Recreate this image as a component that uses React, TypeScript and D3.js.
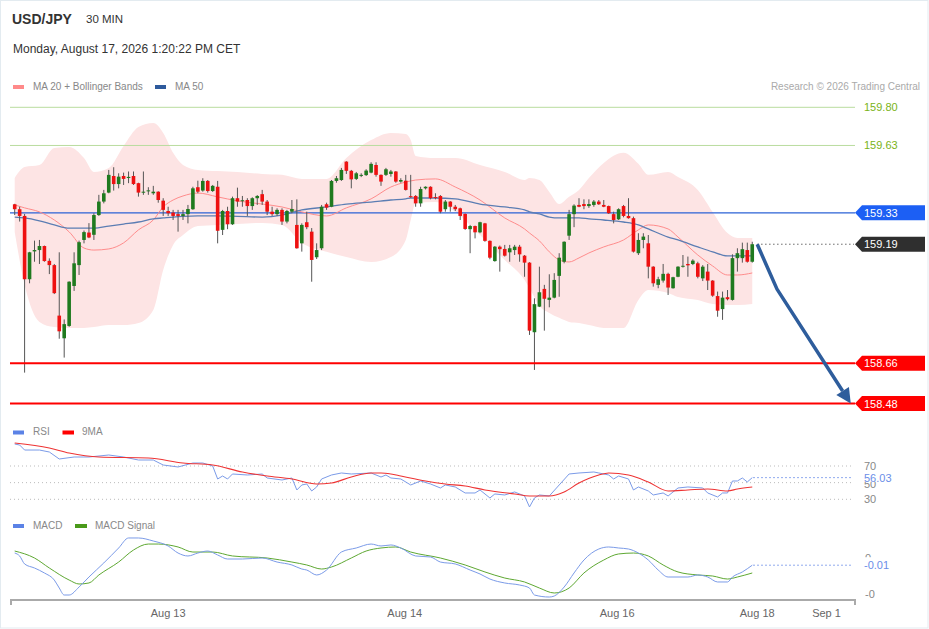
import React, { useEffect } from "react";
import * as d3 from "d3";

// ---------- candles (30 min) ----------
const candleOpen = [159.368,159.346,159.316,159.034,159.158,159.164,159.182,159.116,159.097,158.872,
158.771,158.826,159.004,159.097,159.209,159.242,159.232,159.320,159.380,159.420,
159.494,159.458,159.494,159.485,159.494,159.462,159.420,159.427,159.417,159.424,
159.384,159.338,159.331,159.324,159.316,159.324,159.346,159.444,159.429,159.472,
159.427,159.446,159.254,159.338,159.279,159.395,159.382,159.387,159.360,159.395,
159.413,159.380,159.335,159.324,159.343,159.291,159.335,159.276,159.194,159.288,
159.246,159.132,159.172,159.368,159.357,159.472,159.476,159.558,159.517,159.481,
159.495,159.498,159.509,159.543,159.499,159.499,159.503,159.514,159.469,159.473,
159.404,159.405,159.372,159.439,159.446,159.400,159.405,159.346,159.380,159.357,
159.350,159.325,159.257,159.271,159.243,159.283,159.205,159.115,159.179,159.169,
159.154,159.164,159.179,159.139,159.108,158.798,158.912,158.991,158.942,158.952,
159.049,159.112,159.228,159.324,159.365,159.369,159.360,159.365,159.380,159.365,
159.360,159.324,159.301,159.360,159.316,159.306,159.150,159.209,159.194,159.090,
159.009,159.028,159.058,158.994,159.045,159.090,159.102,159.102,159.105,159.038,
159.068,159.028,158.959,158.901,158.954,158.942,159.128,159.128,159.164,159.112];
const candleHigh = [159.370,159.357,159.325,159.156,159.206,159.209,159.184,159.127,159.102,159.154,
158.855,159.025,159.154,159.206,159.251,159.284,159.328,159.410,159.432,159.521,
159.533,159.506,159.509,159.514,159.514,159.464,159.514,159.444,159.450,159.426,
159.395,159.357,159.343,159.343,159.343,159.365,159.446,159.473,159.484,159.476,
159.454,159.472,159.343,159.357,159.402,159.442,159.405,159.395,159.399,159.409,
159.432,159.387,159.357,159.350,159.350,159.343,159.387,159.390,159.283,159.335,
159.262,159.194,159.365,159.375,159.476,159.494,159.530,159.560,159.521,159.512,
159.506,159.524,159.555,159.555,159.501,159.530,159.521,159.516,159.484,159.499,
159.499,159.409,159.446,159.448,159.448,159.417,159.409,159.387,159.382,159.365,
159.353,159.327,159.276,159.273,159.290,159.285,159.207,159.182,159.184,159.187,
159.187,159.187,159.187,159.142,159.110,158.949,159.090,159.009,159.056,159.061,
159.150,159.203,159.343,159.368,159.395,159.390,159.390,159.387,159.387,159.387,
159.362,159.335,159.350,159.365,159.395,159.313,159.239,159.239,159.231,159.092,
159.045,159.102,159.063,159.045,159.092,159.142,159.135,159.123,159.112,159.097,
159.102,159.030,158.979,158.979,158.986,159.145,159.172,159.197,159.197,159.201];
const candleLow = [159.320,159.291,158.618,159.016,159.112,159.102,159.112,159.057,158.968,158.769,
158.685,158.822,158.982,159.053,159.194,159.217,159.209,159.316,159.372,159.417,
159.429,159.439,159.454,159.462,159.454,159.402,159.410,159.410,159.410,159.375,
159.316,159.316,159.298,159.246,159.298,159.283,159.343,159.417,159.424,159.420,
159.423,159.194,159.231,159.257,159.276,159.357,159.357,159.316,159.343,159.365,
159.365,159.320,159.316,159.316,159.276,159.283,159.328,159.170,159.157,159.257,
159.023,159.124,159.164,159.343,159.355,159.464,159.472,159.503,159.439,159.476,
159.489,159.494,159.506,159.491,159.450,159.494,159.491,159.464,159.464,159.429,
159.397,159.357,159.357,159.434,159.390,159.390,159.328,159.335,159.335,159.338,
159.298,159.254,159.150,159.216,159.239,159.201,159.123,159.112,159.068,159.135,
159.112,159.142,159.112,159.045,158.786,158.630,158.910,158.805,158.909,158.949,
158.956,159.105,159.209,159.266,159.355,159.346,159.352,159.357,159.365,159.355,
159.325,159.283,159.298,159.310,159.304,159.153,159.142,159.172,159.038,159.001,
158.994,159.019,158.964,158.992,159.043,159.086,159.045,159.097,159.038,159.026,
158.986,158.956,158.867,158.853,158.940,158.939,159.068,159.108,159.108,159.108];
const candleClose = [159.346,159.316,159.034,159.154,159.164,159.182,159.115,159.097,158.972,158.802,
158.834,159.023,159.105,159.199,159.244,159.220,159.320,159.380,159.417,159.499,
159.458,159.491,159.481,159.490,159.458,159.420,159.424,159.430,159.424,159.387,
159.343,159.328,159.316,159.316,159.324,159.347,159.439,159.424,159.472,159.427,
159.450,159.250,159.338,159.279,159.395,159.380,159.386,159.360,159.395,159.405,
159.380,159.335,159.324,159.343,159.291,159.338,159.347,159.172,159.276,159.266,
159.120,159.164,159.357,159.353,159.472,159.484,159.521,159.517,159.479,159.506,
159.499,159.518,159.548,159.499,159.469,159.524,159.514,159.469,159.476,159.432,
159.400,159.372,159.436,159.446,159.395,159.397,159.335,159.380,159.357,159.346,
159.316,159.258,159.271,159.243,159.288,159.205,159.130,159.179,159.168,159.139,
159.172,159.179,159.145,159.108,158.805,158.923,158.976,158.947,158.952,159.031,
159.130,159.201,159.324,159.362,159.357,159.360,159.369,159.380,159.368,159.357,
159.328,159.298,159.346,159.316,159.306,159.157,159.209,159.224,159.090,159.016,
159.034,159.058,158.997,159.043,159.090,159.094,159.096,159.117,159.045,159.090,
159.028,158.961,158.894,158.952,158.945,159.128,159.150,159.168,159.112,159.190];

// ---------- MA20 + Bollinger, MA50 (sampled at candle indices) ----------
const bandIdx = [0,2,5,8,11,14,16,19,22,25,28,30,32,34,37,41,45,50,54,58,63,67,72,76,79,80,81,85,89,94,99,103,104,106,108,110,112,114,116,119,123,126,128,132,134,138,141,144,146,149];
const bbUpper = [159.485,159.534,159.543,159.619,159.623,159.574,159.512,159.530,159.628,159.712,
159.730,159.686,159.597,159.543,159.521,159.516,159.512,159.503,159.499,159.481,
159.481,159.574,159.654,159.686,159.681,159.654,159.583,159.574,159.574,159.543,
159.512,159.476,159.485,159.476,159.423,159.369,159.401,159.432,159.485,159.552,
159.597,159.548,159.499,159.512,159.490,159.432,159.334,159.240,159.218,159.218];
const bbLower = [159.245,159.009,158.844,158.821,158.817,158.817,158.821,158.830,158.830,158.839,
158.897,159.075,159.187,159.231,159.271,159.276,159.280,159.285,159.276,159.196,
159.156,159.133,159.111,159.133,159.209,159.298,159.374,159.378,159.334,159.231,
159.120,159.031,158.995,158.915,158.884,158.862,158.844,158.839,158.830,158.817,
158.817,158.942,158.986,158.973,158.955,158.942,158.924,158.919,158.919,158.924];
const ma20 = [159.365,159.352,159.334,159.298,159.245,159.173,159.164,159.169,159.196,159.254,
159.298,159.356,159.387,159.405,159.418,159.401,159.383,159.369,159.356,159.334,
159.316,159.352,159.392,159.445,159.467,159.472,159.476,159.481,159.445,159.387,
159.307,159.258,159.240,159.205,159.156,159.120,159.111,159.129,159.151,159.178,
159.209,159.254,159.276,159.258,159.222,159.142,159.093,159.053,159.053,159.062];
const ma50 = [159.311,159.307,159.294,159.276,159.262,159.262,159.262,159.271,159.280,159.289,
159.303,159.307,159.311,159.314,159.316,159.316,159.314,159.311,159.320,159.343,
159.356,159.369,159.378,159.387,159.392,159.396,159.396,159.396,159.392,159.369,
159.356,159.343,159.334,159.325,159.311,159.307,159.307,159.307,159.303,159.298,
159.289,159.276,159.258,159.222,159.209,159.178,159.156,159.138,159.138,159.138];

// ---------- levels ----------
const resistanceLevels = [159.80, 159.63];
const pivotLevel = 159.33;
const lastPrice = 159.19;
const supportLevels = [158.66, 158.48];
const arrowIdx = [150, 154, 168.9];
const arrowPrice = [159.19, 158.99, 158.48];

// ---------- RSI ----------
const rsiIdx = [0,1,2,5,7,9,12,15,19,22,25,28,30,33,36,38,40,41,42,43,44,47,50,51,54,56,57,58,59,60,61,62,64,66,68,72,74,75,76,78,80,82,84,86,87,89,91,93,94,96,97,99,101,103,104,105,106,108,110,112,114,117,118,120,121,122,124,125,126,128,129,131,132,134,136,139,140,142,143,144,145,146,147,148,149];
const rsiVal = [96.4,95.2,89.2,89.2,86.8,78.4,80.8,80.8,83.2,80.8,77.2,77.2,71.2,68.8,73.6,73.6,70.0,54.4,58.0,54.4,60.4,59.2,60.4,55.6,53.2,55.6,41.2,47.2,48.4,40.0,44.8,54.4,59.2,61.6,60.4,61.6,56.8,59.2,55.6,54.4,47.2,52.0,48.4,43.6,47.2,44.8,37.6,37.6,41.2,31.6,36.4,35.2,38.8,34.0,20.8,31.6,35.2,34.0,47.2,60.4,61.6,62.8,61.6,59.2,54.4,58.0,54.4,41.2,44.8,40.0,35.2,37.6,34.0,43.6,44.8,43.6,37.6,32.8,37.6,37.6,52.0,52.0,55.6,50.8,56.03];
const rsiMaIdx = [0,7,11,17,27,34,40,46,51,56,61,64,68,72,74,76,78,83,87,91,95,101,104,108,111,114,118,120,124,128,132,136,140,144,146,149];
const rsiMaVal = [97.6,91.6,85.6,80.8,79.6,73.6,71.2,62.8,58.0,54.4,48.4,49.6,56.8,61.6,61.6,60.4,58.0,52.0,48.4,46.0,41.2,36.4,34.0,34.0,38.8,49.6,59.2,61.6,59.2,50.8,40.0,41.2,42.4,40.0,42.4,44.8];
const rsiLevels = [70, 50, 30];

// ---------- MACD ----------
const macdIdx = [0,1,2,4,6,8,9,10,11,13,15,18,21,23,25,28,31,33,35,37,39,41,43,46,50,53,56,58,59,61,63,66,69,72,74,76,78,81,84,86,89,92,94,96,99,102,104,105,108,109,111,113,115,118,120,122,124,126,128,130,132,136,138,140,142,144,145,147,149];
const macdVal = [0.0069,0.0028,-0.0083,-0.0139,-0.0208,-0.0306,-0.0417,-0.0514,-0.0514,-0.0403,-0.0264,-0.0069,0.0139,0.0278,0.0278,0.0236,0.0167,0.0069,0.0028,0.0069,0.0097,0.0042,-0.0014,-0.0014,0.0,-0.0056,-0.0097,-0.0153,-0.0167,-0.0236,-0.0167,0.0083,0.0139,0.0194,0.0167,0.0181,0.0139,0.0028,0.0014,-0.0056,-0.0083,-0.0167,-0.0222,-0.0292,-0.0347,-0.0375,-0.0417,-0.0514,-0.0542,-0.0528,-0.0403,-0.0208,-0.0028,0.0125,0.0153,0.0139,0.0125,0.0069,-0.0028,-0.0167,-0.0264,-0.0264,-0.0236,-0.0264,-0.0333,-0.0333,-0.0264,-0.0194,-0.0100];
const sigIdx = [0,4,7,11,13,15,17,21,24,27,29,33,36,40,44,51,56,59,62,64,68,71,74,77,80,86,91,95,99,103,106,109,112,115,119,122,125,128,131,134,138,141,144,146,149];
const sigVal = [0.0097,0.0,-0.0139,-0.0306,-0.0361,-0.0347,-0.0236,-0.0056,0.0111,0.0194,0.0194,0.0153,0.0083,0.0083,0.0028,0.0,-0.0056,-0.0097,-0.0153,-0.0125,0.0,0.0097,0.0139,0.0153,0.0083,0.0,-0.0097,-0.0194,-0.0278,-0.0333,-0.0417,-0.0486,-0.0417,-0.0208,-0.0028,0.0056,0.0069,0.0028,-0.0097,-0.0194,-0.0236,-0.0250,-0.0292,-0.0264,-0.0208];
const macdTicks = [0, -0.05];
const macdTickLabels = ["0", "-0"];

// ---------- x axis labels ----------
const xLabels = ["Aug 13", "Aug 14", "Aug 16", "Aug 18", "Sep 1"];
const xLabelIdx = [31, 78.8, 121.7, 150, 164];

const FONT = "'Liberation Sans', Arial, sans-serif";

export default function App() {
  useEffect(() => {
    document.body.style.margin = "0";
  }, []);

  const W = 929, H = 629;
  const x = d3.scaleLinear().domain([0, 149]).range([14.7, 752.25]);
  const yP = d3.scaleLinear().domain([158.48, 159.8]).range([403.6, 107.3]);
  const yR = d3.scaleLinear().domain([30, 70]).range([499.3, 466]);
  const yM = d3.scaleLinear().domain([-0.05, 0]).range([594, 558]);

  const lineL = 10, lineR = 855, labelX = 864;
  const LBL = 11;

  const band = d3.area<number>()
    .x((i) => x(bandIdx[i]))
    .y0((i) => yP(bbLower[i]))
    .y1((i) => yP(bbUpper[i]))
    .curve(d3.curveMonotoneX);
  const bandIdxs = bandIdx.map((_, i) => i);
  const ma20Line = d3.line<number>().x((i) => x(bandIdx[i])).y((i) => yP(ma20[i])).curve(d3.curveMonotoneX);
  const ma50Line = d3.line<number>().x((i) => x(bandIdx[i])).y((i) => yP(ma50[i])).curve(d3.curveMonotoneX);

  const rsiLine = d3.line<number>().x((i) => x(rsiIdx[i])).y((i) => yR(rsiVal[i]));
  const rsiMaLine = d3.line<number>().x((i) => x(rsiMaIdx[i])).y((i) => yR(rsiMaVal[i])).curve(d3.curveMonotoneX);
  const macdLine = d3.line<number>().x((i) => x(macdIdx[i])).y((i) => yM(macdVal[i])).curve(d3.curveMonotoneX);
  const sigLine = d3.line<number>().x((i) => x(sigIdx[i])).y((i) => yM(sigVal[i])).curve(d3.curveMonotoneX);

  const bodyW = 3.6;

  // arrow geometry from data points
  const ap = arrowIdx.map((v, i) => [x(v), yP(arrowPrice[i])] as [number, number]);
  const tip = ap[ap.length - 1];
  const prev = ap[ap.length - 2];
  const dx = tip[0] - prev[0], dy = tip[1] - prev[1];
  const len = Math.hypot(dx, dy);
  const ux = dx / len, uy = dy / len;
  const headL = 15, headW = 7.5;
  const base: [number, number] = [tip[0] - ux * headL, tip[1] - uy * headL];
  const headPts = [
    tip,
    [base[0] - uy * headW, base[1] + ux * headW],
    [base[0] + uy * headW, base[1] - ux * headW],
  ];
  const arrowPath = d3.line()([...ap.slice(0, -1), base]);

  const tag = (yc: number, fill: string, text: string, key: string) => (
    <g key={key}>
      <path
        d={`M${lineR},${yc} L${lineR + 7},${yc - 7.5} L925,${yc - 7.5} L925,${yc + 7.5} L${lineR + 7},${yc + 7.5} Z`}
        fill={fill}
      />
      <text x={labelX} y={yc + 4} fill="#fff" fontSize={LBL} fontFamily={FONT}>{text}</text>
    </g>
  );

  const lastIdx = candleClose.length - 1;
  const rsiLast = rsiVal[rsiVal.length - 1];
  const macdLast = macdVal[macdVal.length - 1];

  return (
    <svg width={W} height={H} style={{ position: "absolute", left: 0, top: 0, display: "block", background: "#fff" }}>
      <rect x={0.5} y={0.5} width={W - 1.5} height={H - 1.5} fill="#fff" stroke="#e3ebf0" />

      {/* header */}
      <text x={12} y={24} fontSize={14} fontWeight="bold" fill="#333" fontFamily={FONT}>USD/JPY</text>
      <text x={86} y={23} fontSize={11.5} fill="#333" fontFamily={FONT}>30 MIN</text>
      <text x={13} y={53} fontSize={12} fill="#333" fontFamily={FONT}>Monday, August 17, 2026 1:20:22 PM CET</text>

      {/* legend */}
      <rect x={13} y={85} width={11} height={4} fill="#ff8a8a" />
      <text x={33} y={90} fontSize={10} fill="#888" fontFamily={FONT}>MA 20 + Bollinger Bands</text>
      <rect x={155} y={85} width={11} height={4} fill="#2e5a9c" />
      <text x={175} y={90} fontSize={10} fill="#888" fontFamily={FONT}>MA 50</text>
      <text x={920} y={90} fontSize={10} fill="#aaa" textAnchor="end" fontFamily={FONT}>Research © 2026 Trading Central</text>

      {/* bollinger */}
      <path d={band(bandIdxs) || ""} fill="#fde4e4" />

      {/* resistance lines */}
      {resistanceLevels.map((v) => (
        <g key={"r" + v}>
          <line x1={lineL} x2={lineR} y1={yP(v)} y2={yP(v)} stroke="#b9dc9e" strokeWidth={1} />
          <text x={labelX} y={yP(v) + 4} fontSize={LBL} fill="#7ab317" fontFamily={FONT}>{v.toFixed(2)}</text>
        </g>
      ))}

      {/* pivot */}
      <line x1={lineL} x2={lineR} y1={yP(pivotLevel)} y2={yP(pivotLevel)} stroke="#2b62d6" strokeWidth={1.2} />
      {tag(yP(pivotLevel), "#1c5ff4", pivotLevel.toFixed(2), "pivot")}

      {/* MAs */}
      <path d={ma20Line(bandIdxs) || ""} fill="none" stroke="#ff8c8c" strokeWidth={1} />
      <path d={ma50Line(bandIdxs) || ""} fill="none" stroke="#5b7db3" strokeWidth={1.3} />

      {/* candles */}
      {candleClose.map((c, i) => {
        const o = candleOpen[i];
        const up = c >= o;
        const yt = yP(Math.max(o, c));
        const yb = yP(Math.min(o, c));
        const cx = x(i);
        return (
          <g key={"c" + i}>
            <line x1={cx} x2={cx} y1={yP(candleHigh[i])} y2={yP(candleLow[i])} stroke="#555" strokeWidth={1} />
            <rect x={cx - bodyW / 2} y={yt} width={bodyW} height={Math.max(1, yb - yt)} fill={up ? "#1f7a1f" : "#ee1111"} />
          </g>
        );
      })}

      {/* support lines */}
      {supportLevels.map((v) => (
        <g key={"s" + v}>
          <line x1={lineL} x2={lineR} y1={yP(v)} y2={yP(v)} stroke="#ff0000" strokeWidth={2} />
          {tag(yP(v), "#ff0000", v.toFixed(2), "st" + v)}
        </g>
      ))}

      {/* last price */}
      <line x1={x(lastIdx) + 5} x2={lineR - 1} y1={yP(lastPrice)} y2={yP(lastPrice)} stroke="#444" strokeWidth={1} strokeDasharray="1.2,2.8" />
      {tag(yP(lastPrice), "#2f2f2f", lastPrice.toFixed(2), "last")}

      {/* arrow */}
      <path d={arrowPath || ""} fill="none" stroke="#2e5d9c" strokeWidth={3.5} strokeLinejoin="round" />
      <polygon points={headPts.map((p) => p.join(",")).join(" ")} fill="#2e5d9c" />

      {/* RSI panel */}
      <rect x={13} y={430.5} width={11} height={4} fill="#5b82e6" />
      <text x={33} y={435} fontSize={10} fill="#888" fontFamily={FONT}>RSI</text>
      <rect x={62.5} y={430.5} width={11.5} height={4} fill="#ff0000" />
      <text x={82} y={435} fontSize={10} fill="#888" fontFamily={FONT}>9MA</text>
      {rsiLevels.map((v) => (
        <g key={"rl" + v}>
          <line x1={lineL} x2={852} y1={yR(v)} y2={yR(v)} stroke="#bbb" strokeWidth={1} strokeDasharray="1,3" />
          <text x={labelX} y={yR(v) + (v === 50 ? 5 : 4)} fontSize={LBL} fill="#888" fontFamily={FONT}>{v}</text>
        </g>
      ))}
      <path d={rsiLine(rsiIdx.map((_, i) => i)) || ""} fill="none" stroke="#7b9be8" strokeWidth={1} />
      <path d={rsiMaLine(rsiMaIdx.map((_, i) => i)) || ""} fill="none" stroke="#ee3333" strokeWidth={1.1} />
      <line x1={x(lastIdx) + 1} x2={852} y1={yR(rsiLast)} y2={yR(rsiLast)} stroke="#6b8ee8" strokeWidth={1} strokeDasharray="1.5,2.5" />
      <rect x={862} y={yR(rsiLast) - 6} width={34} height={10} fill="#fff" />
      <text x={labelX} y={yR(rsiLast) + 4} fontSize={LBL} fill="#6b8ee8" fontFamily={FONT}>{rsiLast.toFixed(2)}</text>

      {/* MACD panel */}
      <rect x={13} y={524} width={11} height={4} fill="#5b82e6" />
      <text x={33} y={529} fontSize={10} fill="#888" fontFamily={FONT}>MACD</text>
      <rect x={75} y={524} width={12} height={4} fill="#4a9a1a" />
      <text x={95} y={529} fontSize={10} fill="#888" fontFamily={FONT}>MACD Signal</text>
      {macdTicks.map((v, i) => (
        <text key={"mt" + i} x={labelX + 1} y={yM(v) + 4} fontSize={LBL} fill="#888" fontFamily={FONT}>{macdTickLabels[i]}</text>
      ))}
      <path d={sigLine(sigIdx.map((_, i) => i)) || ""} fill="none" stroke="#5ea832" strokeWidth={1} />
      <path d={macdLine(macdIdx.map((_, i) => i)) || ""} fill="none" stroke="#7b9be8" strokeWidth={1} />
      <line x1={x(lastIdx) + 1} x2={852} y1={yM(macdLast)} y2={yM(macdLast)} stroke="#6b8ee8" strokeWidth={1} strokeDasharray="1.5,2.5" />
      <rect x={862} y={yM(macdLast) - 8} width={34} height={14} fill="#fff" />
      <text x={labelX} y={yM(macdLast) + 4} fontSize={LBL} fill="#6b8ee8" fontFamily={FONT}>{macdLast.toFixed(2)}</text>

      {/* x axis */}
      <path d={`M${lineL + 1},605 L${lineL + 1},600 L${lineR},600 L${lineR},605`} fill="none" stroke="#aaa" strokeWidth={2} />
      {xLabels.map((t, i) => (
        <text key={t} x={x(xLabelIdx[i])} y={617} fontSize={LBL} fill="#666" textAnchor="middle" fontFamily={FONT}>{t}</text>
      ))}
    </svg>
  );
}
